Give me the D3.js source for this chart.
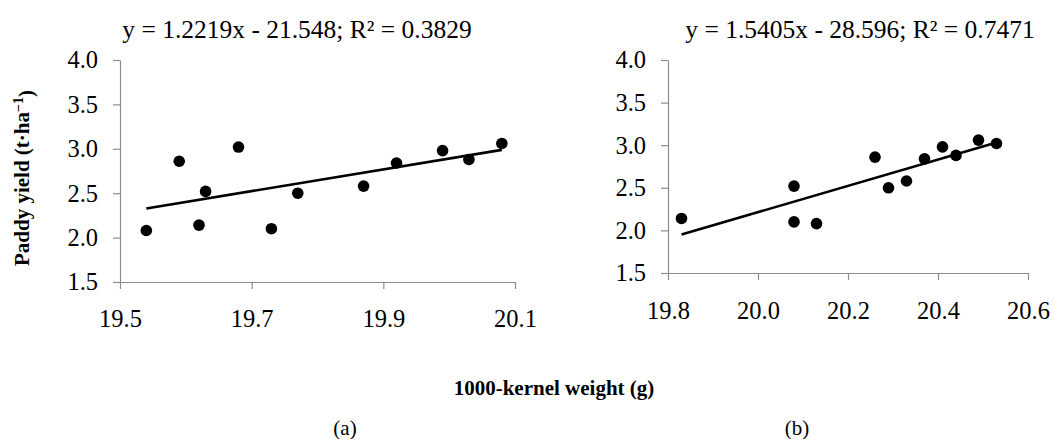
<!DOCTYPE html>
<html>
<head>
<meta charset="utf-8">
<script src="https://cdn.jsdelivr.net/npm/d3@7"></script>
<style>
  body { margin: 0; background: #fff; }
  svg text { font-family: "Liberation Serif", "Times New Roman", serif; fill: #000; }
  .axis path, .axis line { stroke: #8c8c8c; stroke-width: 1.2; }
</style>
</head>
<body>
<div id="chart"></div>
<script>
// yield (t/ha), shared by both panels
var yieldA = [2.08, 2.86, 2.14, 2.52, 3.02, 2.10, 2.50, 2.58, 2.84, 2.98, 2.88, 3.06];
var weightA = [19.54, 19.59, 19.62, 19.63, 19.68, 19.73, 19.77, 19.87, 19.92, 19.99, 20.03, 20.08];

var yieldB = [2.14, 2.52, 2.10, 2.08, 2.86, 2.50, 2.58, 2.84, 2.98, 2.88, 3.06, 3.02];
var weightB = [19.83, 20.08, 20.08, 20.13, 20.26, 20.29, 20.33, 20.37, 20.41, 20.44, 20.49, 20.53];

var xTicksA = [19.5, 19.7, 19.9, 20.1];
var xTicksB = [19.8, 20.0, 20.2, 20.4, 20.6];
var yTicks = [1.5, 2.0, 2.5, 3.0, 3.5, 4.0];

var fitA = { slope: 1.2219, intercept: -21.548, r2: 0.3829 };
var fitB = { slope: 1.5405, intercept: -28.596, r2: 0.7471 };

var panelLabels = ["(a)", "(b)"];

var W = 1054, H = 439;
var serif = "'Liberation Serif', 'Times New Roman', serif";
var svg = d3.select("#chart").append("svg")
    .attr("width", W)
    .attr("height", H);

function drawPanel(opt) {
  var x = d3.scaleLinear().domain(opt.xDomain).range([opt.left, opt.right]);
  var y = d3.scaleLinear().domain([1.5, 4.0]).range([opt.bottom, opt.top]);

  var g = svg.append("g");

  var xAxis = d3.axisBottom(x)
      .tickValues(opt.xTicks)
      .tickFormat(d3.format(".1f"))
      .tickSizeInner(7)
      .tickSizeOuter(0)
      .tickPadding(opt.xPad);

  var yAxis = d3.axisLeft(y)
      .tickValues(yTicks)
      .tickFormat(d3.format(".1f"))
      .tickSizeInner(7)
      .tickSizeOuter(0)
      .tickPadding(15);

  g.append("g")
      .attr("class", "axis")
      .attr("transform", "translate(0," + opt.bottom + ")")
      .call(xAxis);

  g.append("g")
      .attr("class", "axis")
      .attr("transform", "translate(" + opt.left + ",0)")
      .call(yAxis);

  g.selectAll(".axis")
      .attr("font-family", serif)
      .attr("font-size", 24);
  g.selectAll(".axis text")
      .attr("fill", "#000")
      .style("font-family", serif)
      .style("font-size", "24.5px");

  // trend line over the range of the data
  var xs = d3.extent(opt.xs);
  var line = d3.line()
      .x(function(d) { return x(d); })
      .y(function(d) { return y(opt.fit.slope * d + opt.fit.intercept); });
  g.append("path")
      .datum(xs)
      .attr("d", line)
      .attr("fill", "none")
      .attr("stroke", "#000")
      .attr("stroke-width", 2.6);

  g.selectAll(".dot")
      .data(opt.xs.map(function(v, i) { return [v, opt.ys[i]]; }))
      .enter().append("circle")
      .attr("class", "dot")
      .attr("cx", function(d) { return x(d[0]); })
      .attr("cy", function(d) { return y(d[1]); })
      .attr("r", 5.8)
      .attr("fill", "#000");

  // equation above
  var fmt = d3.format(".4f");
  var eq = "y = " + opt.fit.slope.toFixed(4) + "x - " + Math.abs(opt.fit.intercept).toFixed(3) +
      "; R\u00b2 = " + fmt(opt.fit.r2);
  g.append("text")
      .attr("x", opt.titleX)
      .attr("y", 29)
      .attr("dy", "0.35em")
      .attr("text-anchor", "middle")
      .style("font-size", "25.5px")
      .text(eq);

  g.append("text")
      .attr("x", opt.labelX)
      .attr("y", 428)
      .attr("dy", "0.35em")
      .attr("text-anchor", "middle")
      .style("font-size", "21px")
      .text(opt.label);
}

drawPanel({
  xs: weightA, ys: yieldA, fit: fitA, xDomain: [19.5, 20.1], xTicks: xTicksA,
  left: 120, right: 515, top: 60, bottom: 282, xPad: 21,
  titleX: 297, labelX: 345, label: panelLabels[0]
});

drawPanel({
  xs: weightB, ys: yieldB, fit: fitB, xDomain: [19.8, 20.6], xTicks: xTicksB,
  left: 668, right: 1028, top: 60, bottom: 273, xPad: 22,
  titleX: 860, labelX: 797, label: panelLabels[1]
});

// axis titles
var yLab = svg.append("text")
    .attr("transform", "translate(22,178) rotate(-90)")
    .attr("dy", "0.35em")
    .attr("text-anchor", "middle")
    .style("font-size", "21px")
    .style("font-weight", "bold");
yLab.append("tspan").text("Paddy yield (t\u00b7ha");
yLab.append("tspan").attr("dy", "-0.45em").style("font-size", "14px").text("\u22121");
yLab.append("tspan").attr("dy", "0.45em").text(")");

svg.append("text")
    .attr("x", 554)
    .attr("y", 388)
    .attr("dy", "0.35em")
    .attr("text-anchor", "middle")
    .style("font-size", "21px")
    .style("font-weight", "bold")
    .text("1000-kernel weight (g)");
</script>
</body>
</html>
